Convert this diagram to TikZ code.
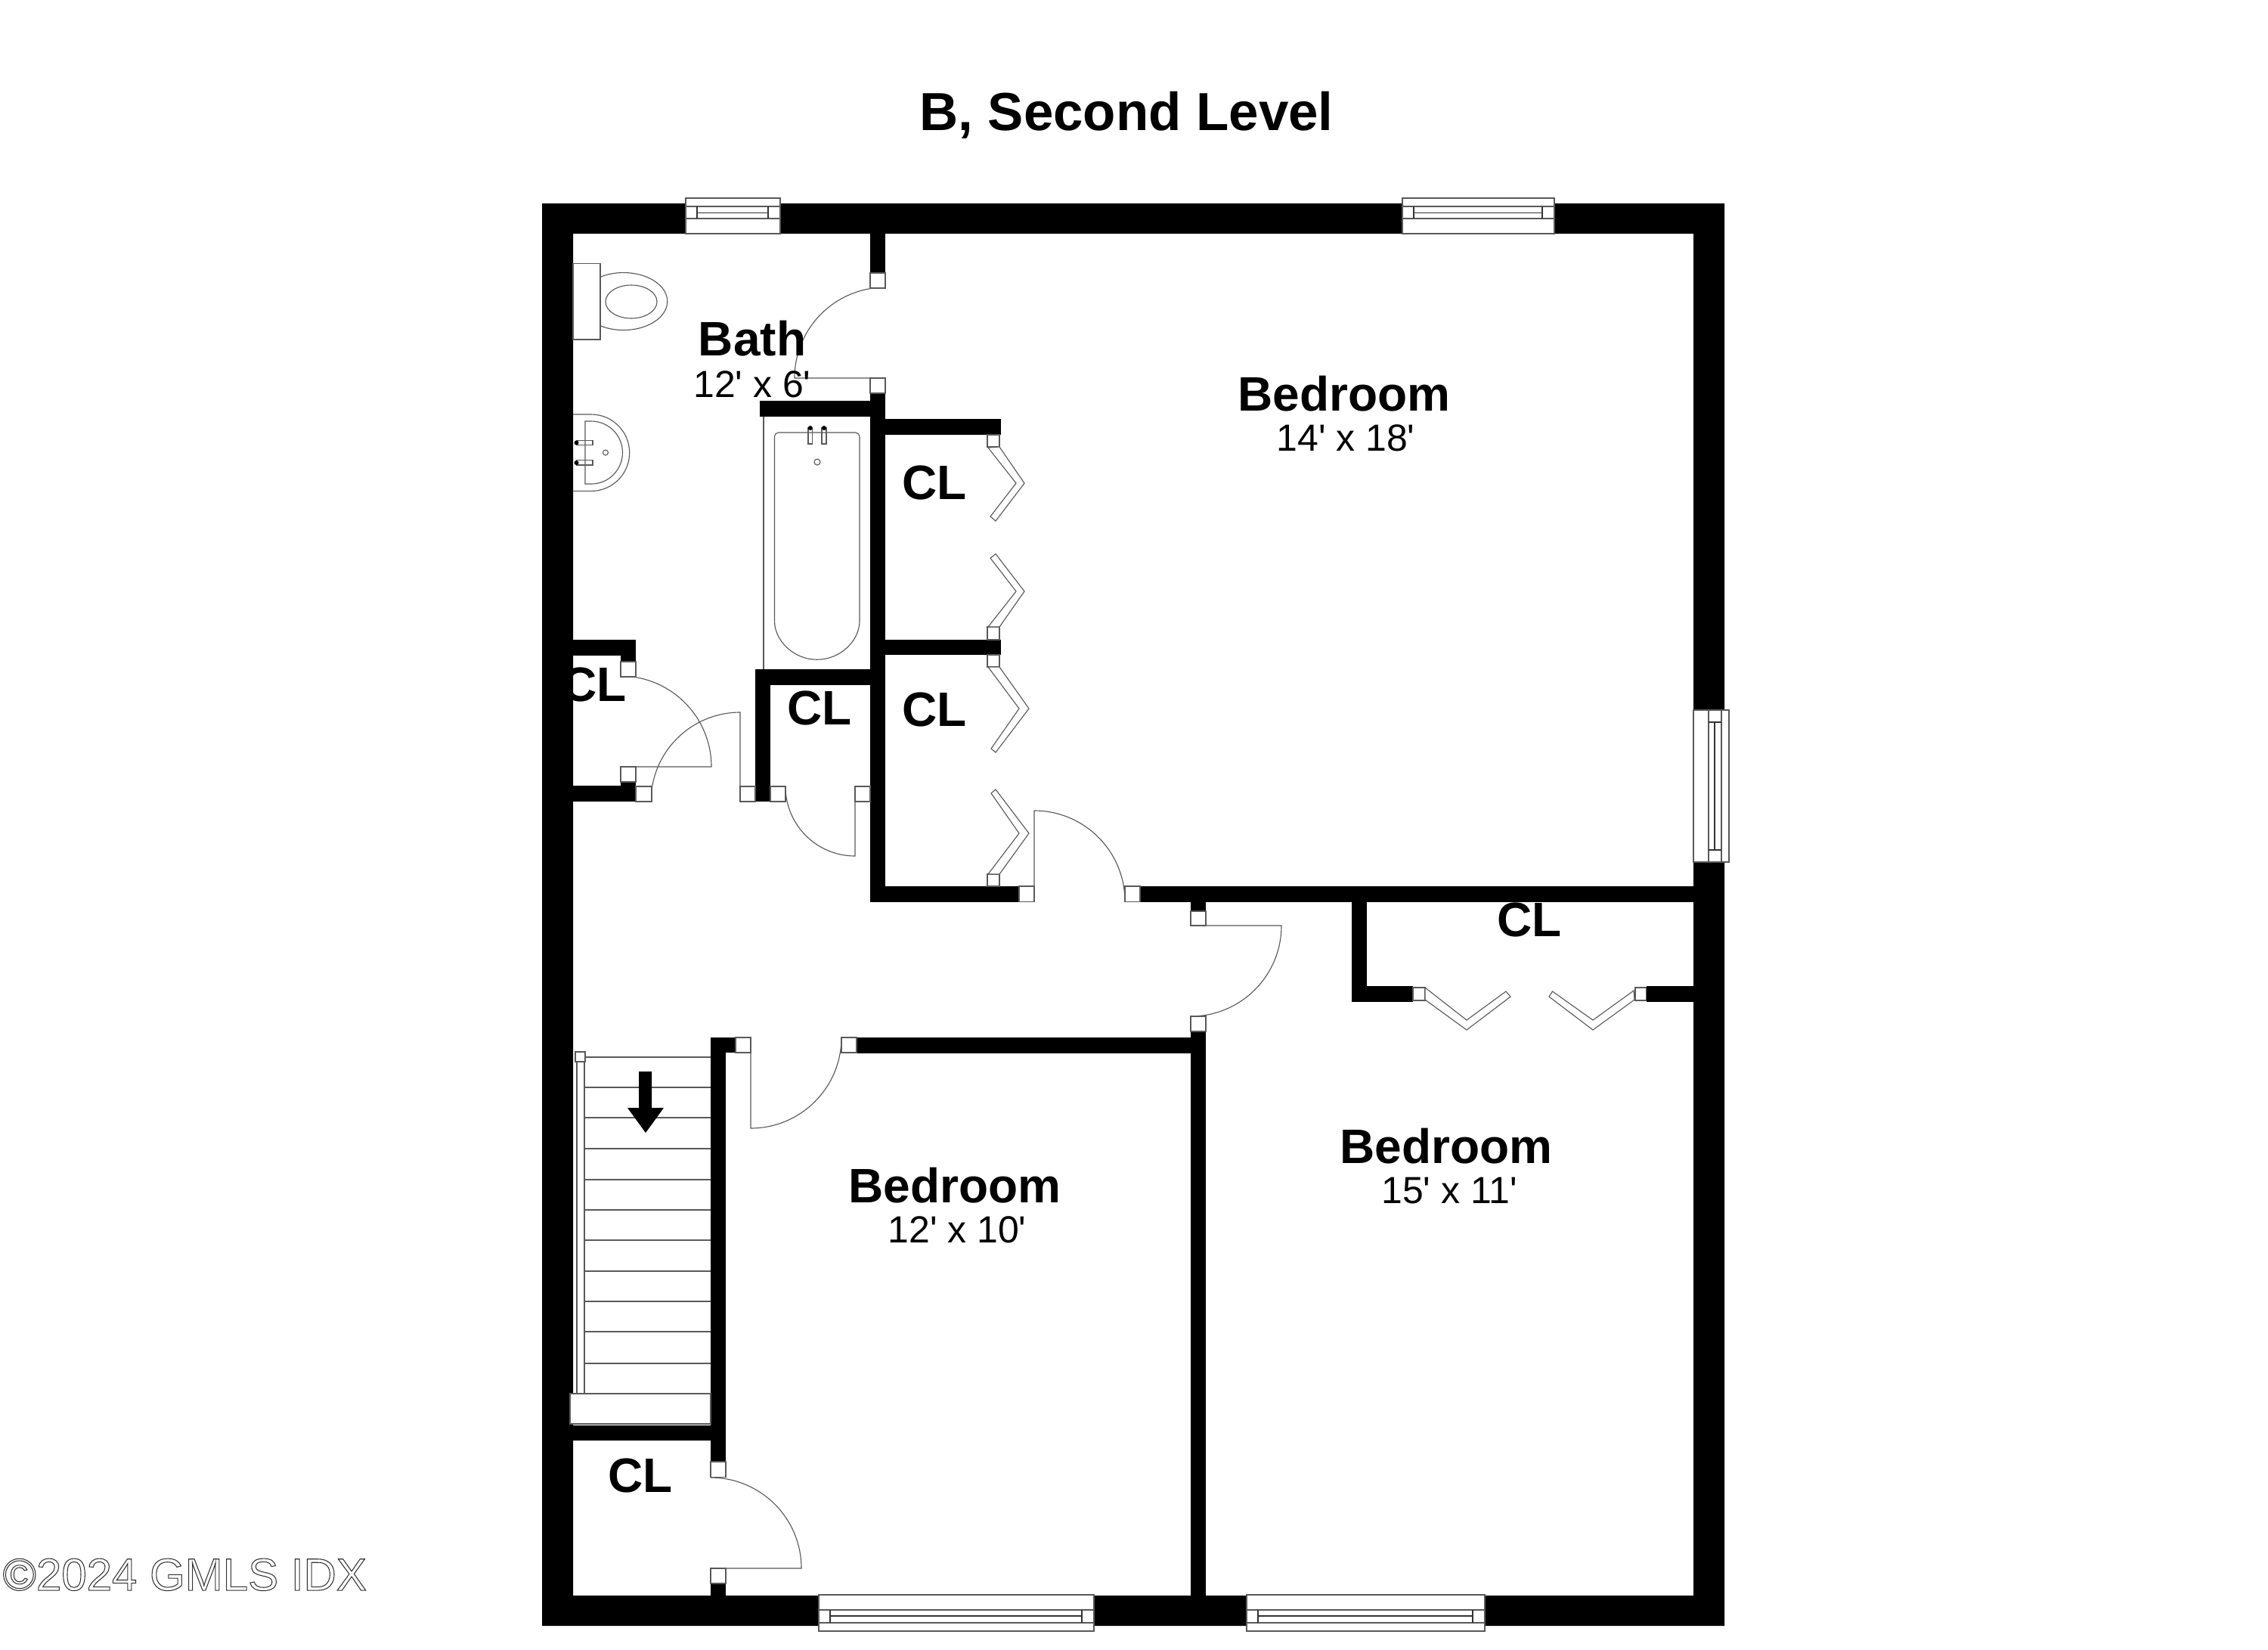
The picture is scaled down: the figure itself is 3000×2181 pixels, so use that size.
\documentclass[tikz,border=0pt]{standalone}
\usepackage{fontspec}
\setmainfont{Liberation Sans}
\newcommand{\ftmark}{\textquotesingle}
\tikzstyle{wall} = [fill=black]
\tikzstyle{thinline} = [draw=black!65, line width=0.32pt]
\tikzstyle{jamb} = [thinline, fill=white]
\tikzstyle{darkline} = [draw=black!80, line width=0.32pt]
\tikzstyle{room} = [anchor=base, inner sep=0pt, font=\bfseries\fontsize{18.2pt}{20pt}\selectfont]
\tikzstyle{size} = [anchor=base, inner sep=0pt, font=\fontsize{14.2pt}{16pt}\selectfont]
\tikzstyle{title} = [anchor=base, inner sep=0pt, font=\bfseries\fontsize{20.15pt}{22pt}\selectfont]
\begin{document}
\begin{tikzpicture}[x=0.01cm,y=-0.01cm]
\path[use as bounding box, fill=white] (0,0) rectangle (3000,2181);
% doors: hinge, radius, leaf angle, angle of the swing end
\foreach \cx/\cy/\r/\sa/\ea in {1171/500/120/180/270, 821/1014/120/0/-90, 979/1060/118/270/180,
	1131/1040/92/90/180, 1368/1192/120/270/360, 1575/1224/120/0/90, 993/1372/120/90/0, 940/2074/120/0/-90}
	\draw[thinline] (\cx,\cy) -- ++(\sa:\r) arc[start angle=\sa, end angle=\ea, radius=\r];
% stairs
\foreach \y in {1398,1438,1478,1519,1560,1600,1640,1681,1721,1761,1803,1843}
	\draw[thinline] (773,\y) -- (940,\y);
\draw[thinline, fill=white] (763,1403) rectangle (773,1843);
\draw[jamb] (761,1391) rectangle (774,1404);
% walls
\fill[wall, even odd rule] (717,269) rectangle (2281,2150) (758,309) rectangle (2240,2110);
\foreach \xa/\ya/\xb/\yb in {1151/309/1171/361, 1004.5/530/1151/551, 1151/520/1171/1192.5, 1171/554/1324/575,
	1171/846/1324/866, 758/846/841/866.5, 821/866/841/875, 758/1039/841/1060, 821/1034/841/1060,
	999/885/1019/1060, 1019/885/1151/906, 1151/1172/1348/1192.5, 1508/1172/2240/1192.5,
	1575/1192/1595/1205, 1575/1364/1595/2110, 1133/1372/1575/1392.5, 940/1372/973/1392,
	940/1372/960/1933, 758/1885/940/1905, 940/2094/960/2110, 1788/1192/1808/1325,
	1788/1304/1869/1325, 2177.5/1304/2240/1325}
	\fill[wall] (\xa,\ya) rectangle (\xb,\yb);
% jambs
\foreach \xa/\ya/\xb/\yb in {1151/361/1171/381, 1151/500/1171/520, 821/875/841/895, 821/1014/841/1034,
	841/1040/862/1060, 979/1040/999/1060, 1019/1040/1039/1060, 1131/1040/1151/1060, 1348/1172/1368/1192.5,
	1488/1172/1508/1192.5, 1575/1205/1595/1224, 1575/1344/1595/1364, 973/1372/993/1392, 1113/1372/1133/1392,
	940/1933/960/1953.5, 940/2074/960/2094, 1306/575/1322/591, 1306/829/1322/846, 1306/866/1322/882,
	1306/1156/1322/1172, 1869/1306/1885/1323, 2163/1306/2177.5/1323}
	\draw[jamb] (\xa,\ya) rectangle (\xb,\yb);
% bifold doors
\draw[jamb] (1307,592) -- (1322,591) -- (1355,639) -- (1317,689) -- (1310,683) -- (1344,639) -- cycle;
\draw[jamb] (1310,738) -- (1317,732.5) -- (1355,782) -- (1322,829) -- (1307,829) -- (1344,782) -- cycle;
\draw[jamb] (1307,882) -- (1322,882) -- (1361,937) -- (1317,995) -- (1311,990) -- (1348,937) -- cycle;
\draw[jamb] (1311,1049) -- (1317,1044) -- (1361,1102) -- (1322,1156) -- (1307,1156) -- (1348,1102) -- cycle;
\draw[jamb] (1885,1306) -- (1940,1349) -- (1992,1311) -- (1998,1318) -- (1940,1362) -- (1885,1322) -- cycle;
\draw[jamb] (2049,1318) -- (2053.5,1311) -- (2107,1349) -- (2161,1310) -- (2162,1322) -- (2107,1362) -- cycle;
% windows
\foreach \xa/\xb in {907/1032, 1855/2056} {
	\draw[jamb] (\xa,262) rectangle (\xb,309);
	\draw[thinline] (\xa,273) -- (\xb,273) (\xa,289) -- (\xb,289);
	\draw[darkline] (\xa+15,273) -- (\xa+15,289) (\xb-16,273) -- (\xb-16,289) (\xa+15,281.5) -- (\xb-16,281.5);
}
\foreach \xa/\xb in {1083/1447, 1649/1964} {
	\draw[jamb] (\xa,2109) rectangle (\xb,2157);
	\draw[thinline] (\xa,2129) -- (\xb,2129) (\xa,2146) -- (\xb,2146);
	\draw[darkline] (\xa+15,2129) -- (\xa+15,2146) (\xb-16,2129) -- (\xb-16,2146) (\xa+15,2137) -- (\xb-16,2137);
}
\draw[jamb] (2240,939) rectangle (2287,1140);
\draw[thinline] (2260,939) -- (2260,1140) (2277,939) -- (2277,1140);
\draw[darkline] (2260,955) -- (2277,955) (2260,1124) -- (2277,1124) (2268,955) -- (2268,1124);
% landing and arrow
\draw[jamb] (754,1843) rectangle (940,1883);
\fill[wall] (845,1417) -- (862,1417) -- (862,1465) -- (878,1465) -- (854,1498) -- (830,1465) -- (845,1465) -- cycle;
% toilet
\draw[thinline] (758,348.5) rectangle (794,449);
\draw[thinline] (794,366.3) arc[start angle=-122, end angle=122, x radius=58, y radius=38];
\draw[thinline] (835,399) ellipse [x radius=34, y radius=22];
% sink
\draw[thinline] (758,548) -- (782,548) arc[start angle=-90, end angle=90, radius=50.7] -- (758,649.4);
\draw[thinline] (774,557) -- (782,557) arc[start angle=-90, end angle=90, radius=41.5] -- (774,640) -- cycle;
\draw[thinline] (762.5,582.4) rectangle (784,588.7) (762.5,608.8) rectangle (784,615);
\fill[wall] (762.5,585.5) circle [radius=3] (762.5,612) circle [radius=3];
\draw[thinline] (801,598.5) circle [radius=3.5];
% tub
\draw[thinline] (1010,551) -- (1010,885);
\draw[thinline, rounded corners=1.5pt] (1024.5,816) arc[start angle=180, end angle=0, radius=56.25] -- (1137,572) -- (1024.5,572) -- cycle;
\draw[thinline] (1069,566) rectangle (1074.5,587) (1087,566) rectangle (1093,587);
\fill[wall] (1071.8,566) circle [radius=3] (1090,566) circle [radius=3];
\draw[thinline] (1081,611) circle [radius=4];
% labels
\node[title] (leveltitle) at (1490,172) {B, Second Level};
\node[room] (bathname) at (995,470) {Bath};
\node[size] (bathsize) at (995,525) {12\ftmark{} x 6\ftmark};
\node[room] (bedaname) at (1778,543) {Bedroom};
\node[size] (bedasize) at (1780,596) {14\ftmark{} x 18\ftmark};
\node[room] (bedbname) at (1913,1538) {Bedroom};
\node[size] (bedbsize) at (1917,1591) {15\ftmark{} x 11\ftmark};
\node[room] (bedcname) at (1263,1590) {Bedroom};
\node[size] (bedcsize) at (1266,1643) {12\ftmark{} x 10\ftmark};
\node[room] (cla) at (1236,660.5) {CL};
\node[room] (clb) at (786,927) {CL};
\node[room] (clc) at (1084,958) {CL};
\node[room] (cld) at (1236,960) {CL};
\node[room] (cle) at (2023,1238.7) {CL};
\node[room] (clf) at (847,1973) {CL};
\node[anchor=base west, inner sep=0pt, font=\fontsize{17.07pt}{19pt}\selectfont, text=black!80] (mark) at (3,2103)
	{\special{pdf:code 1 Tr 0.3 w}©2024 GMLS IDX\special{pdf:code 0 Tr}};
\end{tikzpicture}
\end{document}
